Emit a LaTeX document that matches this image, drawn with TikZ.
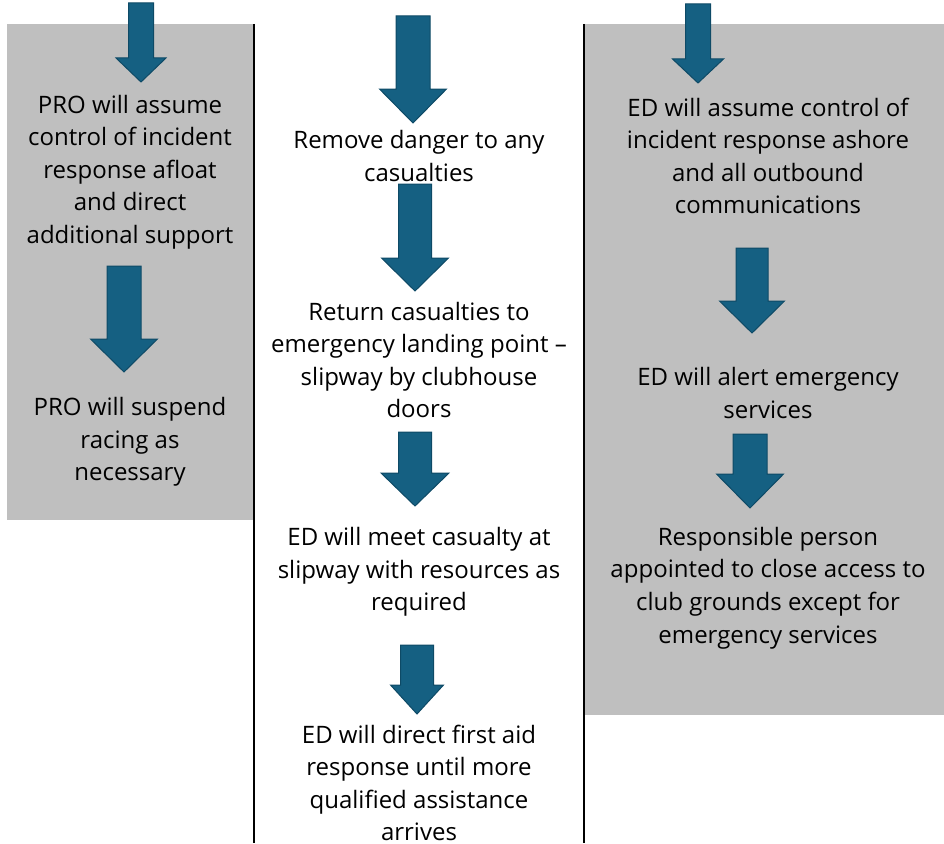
\documentclass[tikz,border=0pt]{standalone}
\usepackage{fontspec}
\setmainfont{Open Sans}
\usepackage{xcolor}

\definecolor{panelgray}{HTML}{BFBFBF}
\definecolor{arrowblue}{HTML}{156082}
\definecolor{arrowedge}{HTML}{0E4A66}

\tikzset{
    panel/.style = {fill=panelgray, draw=none},
    divider/.style = {draw=black, line width=1.6pt},
    steptext/.style = {align=center, inner sep=0pt, text=black,
        font=\fontsize{24}{32.6}\selectfont},
    blockarrow/.style = {fill=arrowblue, draw=arrowedge, line width=1pt, line join=miter},
}

% name, centre x, top, head start, tip, shaft half width, head half width
\newcommand{\flowarrow}[7]{%
    \draw[blockarrow] ({#2-#6},#3) -- ({#2+#6},#3) -- ({#2+#6},#4) -- ({#2+#7},#4)
        -- (#2,#5) -- ({#2-#7},#4) -- ({#2-#6},#4) -- cycle;
    \coordinate (#1) at (#2,#5);
}

\begin{document}
\begin{tikzpicture}[x=1pt, y=-1pt]
    \useasboundingbox (0,0) rectangle (944,843);

    % panels and dividers
    \fill[panel] (7,24) rectangle (253,520);
    \fill[panel] (585,24) rectangle (944,715);
    \draw[divider] (254,24) -- (254,843);
    \draw[divider] (584,24) -- (584,843);

    % afloat column
    \flowarrow{afloat-in}{141}{3}{58}{82}{12.5}{25}
    \node[steptext] (pro-control) at (130,172) {PRO will assume\\control of incident\\response afloat\\and direct\\additional support};
    \flowarrow{afloat-next}{124}{266}{339}{372}{17}{33.5}
    \node[steptext] (pro-suspend) at (130,442) {PRO will suspend\\racing as\\necessary};

    % casualty column
    \flowarrow{casualty-in}{413}{16}{89}{123}{17}{33.5}
    \node[steptext] (remove-danger) at (419,156) {Remove danger to any\\casualties};
    \flowarrow{casualty-return}{415}{184}{258}{291}{16.5}{33.5}
    \node[steptext] (return-casualties) at (419,360) {Return casualties to\\emergency landing point –\\slipway by clubhouse\\doors};
    \flowarrow{casualty-meet}{415}{432}{473}{506}{16.5}{34}
    \node[steptext] (meet-casualty) at (419,572) {ED will meet casualty at\\slipway with resources as\\required};
    \flowarrow{casualty-aid}{417}{645}{685}{714}{16.5}{26.5}
    \node[steptext] (first-aid) at (419,783) {ED will direct first aid\\response until more\\qualified assistance\\arrives};

    % ashore column
    \flowarrow{ashore-in}{698}{4}{59}{83}{12.5}{25.5}
    \node[steptext] (ed-control) at (768,156) {ED will assume control of\\incident response ashore\\and all outbound\\communications};
    \flowarrow{ashore-alert}{752}{248}{301}{333}{16}{32.5}
    \node[steptext] (ed-alert) at (768,393) {ED will alert emergency\\services};
    \flowarrow{ashore-close}{750}{434}{474}{508}{17}{33.5}
    \node[steptext] (close-access) at (768,588) {Responsible person\\appointed to close access to\\club grounds except for\\emergency services};
\end{tikzpicture}
\end{document}
